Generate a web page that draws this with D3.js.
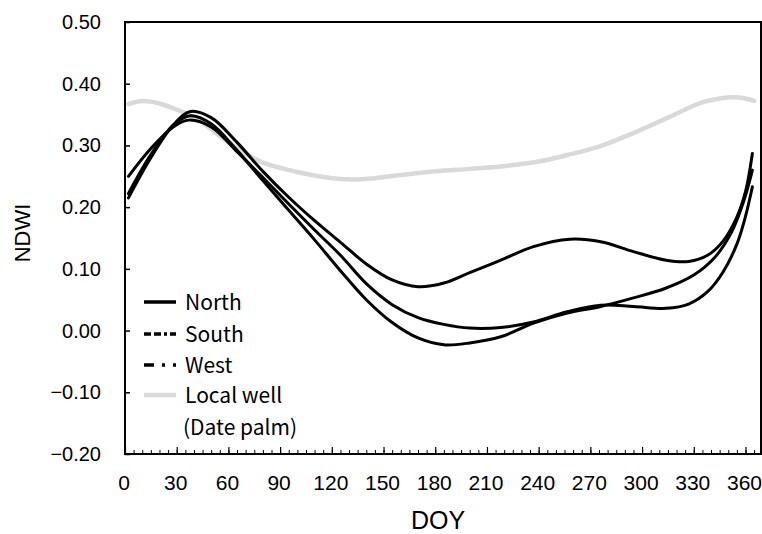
<!DOCTYPE html>
<html><head><meta charset="utf-8">
<script src="https://cdn.jsdelivr.net/npm/d3@7"></script>
<style>body{margin:0;background:#fff}svg{display:block}</style>
</head><body>
<svg id="c" width="762" height="534"></svg>
<script>
// ---- data ----
const xTicks = [0,30,60,90,120,150,180,210,240,270,300,330,360];
const yTicks = [-0.2,-0.1,0,0.1,0.2,0.3,0.4,0.5];
const seriesNames = ["North","South","West","Local well"];

const northDoy = [2,15,28,38,50,65,80,95,110,125,140,155,170,185,200,218,237,258,276,295,314,327,338,347,355,360,364];
const northVal = [0.215,0.280,0.333,0.355,0.345,0.305,0.258,0.216,0.178,0.143,0.108,0.082,0.071,0.077,0.094,0.114,0.136,0.148,0.144,0.128,0.114,0.112,0.122,0.145,0.184,0.225,0.287];

const southDoy = [2,15,28,37,50,65,80,95,110,125,140,155,170,185,200,218,237,256,276,295,314,327,338,347,355,360,364];
const southVal = [0.250,0.295,0.330,0.341,0.330,0.290,0.248,0.205,0.163,0.122,0.076,0.042,0.021,0.010,0.004,0.005,0.014,0.030,0.041,0.039,0.036,0.043,0.063,0.095,0.140,0.185,0.233];

const westDoy = [2,15,28,38,50,65,80,95,110,125,140,155,170,185,200,218,237,256,276,295,314,330,342,352,359,364];
const westVal = [0.222,0.285,0.333,0.348,0.335,0.292,0.243,0.195,0.147,0.097,0.050,0.013,-0.012,-0.023,-0.020,-0.010,0.012,0.028,0.039,0.053,0.069,0.090,0.118,0.160,0.210,0.260];

const wellDoy = [2,10,20,30,43,55,67,80,100,115,130,145,160,180,200,218,240,256,275,295,315,334,345,353,360,365];
const wellVal = [0.367,0.372,0.368,0.358,0.341,0.315,0.292,0.272,0.257,0.249,0.245,0.247,0.252,0.258,0.262,0.266,0.274,0.284,0.298,0.320,0.345,0.369,0.376,0.378,0.376,0.372];

// ---- layout ----
const L=125, R=761, T=22, B=454;
const svg = d3.select("#c");
const x = d3.scaleLinear().domain([0,369]).range([L,R]);
const y = d3.scaleLinear().domain([-0.2,0.5]).range([B,T]);

// frame
svg.append("rect").attr("x",L).attr("y",T).attr("width",R-L).attr("height",B-T)
  .attr("fill","none").attr("stroke","#000").attr("stroke-width",2);

// y axis ticks (inward)
const yAxis = d3.axisRight(y).tickValues(yTicks).tickSize(5).tickFormat("");
svg.append("g").attr("transform",`translate(${L},0)`).call(yAxis)
  .call(g=>{g.select(".domain").remove(); g.selectAll("line").attr("stroke","#000").attr("stroke-width",1.5);});
svg.append("g").selectAll("text").data(yTicks).join("text")
  .attr("x",101).attr("y",d=>y(d)+7).attr("text-anchor","end")
  .attr("font-family","'Liberation Sans',Arial,sans-serif").attr("font-size",20)
  .text(d=>(d<0?"\u2212":"")+Math.abs(d).toFixed(2));

// x axis ticks (inward)
const minor = d3.range(0,369,5);
const xMinor = d3.axisTop(x).tickValues(minor).tickSize(4).tickFormat("");
svg.append("g").attr("transform",`translate(0,${B})`).call(xMinor)
  .call(g=>{g.select(".domain").remove(); g.selectAll("line").attr("stroke","#000").attr("stroke-width",1);});
const xMajor = d3.axisTop(x).tickValues(xTicks).tickSize(7).tickFormat("");
svg.append("g").attr("transform",`translate(0,${B})`).call(xMajor)
  .call(g=>{g.select(".domain").remove(); g.selectAll("line").attr("stroke","#000").attr("stroke-width",1.2);});
svg.append("g").selectAll("text").data(xTicks).join("text")
  .attr("x",d=>x(d)-1).attr("y",490).attr("text-anchor","middle")
  .attr("font-family","'Liberation Sans Narrow','Liberation Sans',sans-serif").attr("font-size",21)
  .text(d=>d);

// axis titles
svg.append("text").attr("x",438).attr("y",529).attr("text-anchor","middle")
  .attr("font-family","'Liberation Sans',Arial,sans-serif").attr("font-size",25).text("DOY");
svg.append("text").attr("transform","translate(30,233) rotate(-90)").attr("text-anchor","middle")
  .attr("font-family","'Liberation Sans',Arial,sans-serif").attr("font-size",22).text("NDWI");

// lines
const line = d3.line().x(d=>x(d[0])).y(d=>y(d[1])).curve(d3.curveCatmullRom.alpha(0.5));
const zip=(a,b)=>a.map((v,i)=>[v,b[i]]);
svg.append("path").datum(zip(wellDoy,wellVal)).attr("d",line)
  .attr("fill","none").attr("stroke","#d9d9d9").attr("stroke-width",4.5).attr("stroke-linecap","round");
[[northDoy,northVal],[southDoy,southVal],[westDoy,westVal]].forEach(([d,v])=>{
  svg.append("path").datum(zip(d,v)).attr("d",line)
    .attr("fill","none").attr("stroke","#000").attr("stroke-width",3).attr("stroke-linecap","round");
});

// legend
const legY = [302,334,365,395];
const dashes = [null,"7,3,7,3,3,3","10,8,3,8",null];
const colors = ["#000","#000","#000","#d9d9d9"];
const lg = svg.append("g");
seriesNames.forEach((n,i)=>{
  lg.append("line").attr("x1",144).attr("x2",176).attr("y1",legY[i]).attr("y2",legY[i])
    .attr("stroke",colors[i]).attr("stroke-width",i===3?4.5:3.5)
    .attr("stroke-dasharray",dashes[i]);
  lg.append("text").attr("x",185).attr("y",legY[i]+8)
    .attr("font-family","'Noto Sans CJK JP',sans-serif").attr("font-size",21).text(n);
});
lg.append("text").attr("x",183).attr("y",435)
  .attr("font-family","'Noto Sans CJK JP',sans-serif").attr("font-size",21).text("(Date palm)");
</script>
</body></html>
